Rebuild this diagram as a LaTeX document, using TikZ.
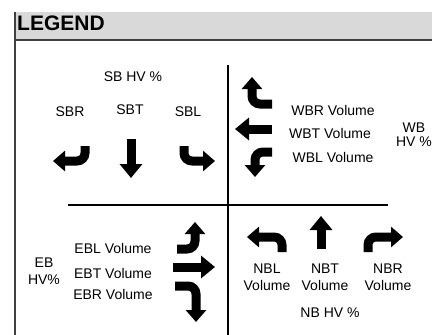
\documentclass[tikz,border=0pt]{standalone}
\usepackage{fontspec}
\setmainfont{Liberation Sans}
\usetikzlibrary{arrows.meta}

\begin{document}
\begin{tikzpicture}[x=1pt,y=-1pt,
    lbl/.style={font=\fontsize{14}{17}\selectfont,inner sep=0pt,align=center},
    fat/.style={line width=9pt,-{Triangle[width=22pt,length=14pt]}},
    turn/.style={line width=9pt,rounded corners=8pt,-{Triangle[width=20pt,length=12pt]}}]
    \useasboundingbox (0,0) rectangle (432,335);
    % header
    \fill[black!15] (15,12) rectangle (432,40);
    \draw[line width=2pt,black!75] (15,12) -- (15,335);
    \draw[line width=1.8pt,black!75] (15,40) -- (432,40);
    \node[anchor=west,inner sep=0pt,font=\fontsize{21}{21}\selectfont\bfseries] (title) at (17,23) {LEGEND};
    % quadrants
    \coordinate (vtop) at (228,65);
    \coordinate (vbot) at (228,335);
    \coordinate (hleft) at (68,205);
    \coordinate (hright) at (388,205);
    \draw[line width=1.2pt] (vtop) -- (vbot);
    \draw[line width=1.2pt] (hleft) -- (hright);
    % southbound
    \node[lbl] (sbhv) at (133,77) {SB HV \%};
    \node[lbl] (sbr) at (70,112) {SBR};
    \node[lbl] (sbt) at (130,110) {SBT};
    \node[lbl] (sbl) at (188,112) {SBL};
    \coordinate (sbrA) at (85,146);  \coordinate (sbrB) at (53,161);
    \coordinate (sbtA) at (131,139); \coordinate (sbtB) at (131,178);
    \coordinate (sblA) at (184,146); \coordinate (sblB) at (215,161);
    \draw[turn] (sbrA) |- (sbrB);
    \draw[fat] (sbtA) -- (sbtB);
    \draw[turn] (sblA) |- (sblB);
    % westbound
    \node[lbl] (wbr) at (333,110) {WBR Volume};
    \node[lbl] (wbt) at (330,133) {WBT Volume};
    \node[lbl] (wbl) at (333,157) {WBL Volume};
    \node[lbl,font=\fontsize{14}{14}\selectfont] (wbhv) at (414,135) {WB\\HV \%};
    \coordinate (wbrA) at (272,104); \coordinate (wbrB) at (252,77);
    \coordinate (wbtA) at (272,129); \coordinate (wbtB) at (235,129);
    \coordinate (wblA) at (272,152); \coordinate (wblB) at (255,177);
    \draw[turn] (wbrA) -| (wbrB);
    \draw[fat] (wbtA) -- (wbtB);
    \draw[turn] (wblA) -| (wblB);
    % eastbound
    \node[lbl] (ebhv) at (44,271) {EB\\HV\%};
    \node[lbl] (ebl) at (113,248) {EBL Volume};
    \node[lbl] (ebt) at (113,273) {EBT Volume};
    \node[lbl] (ebr) at (113,294) {EBR Volume};
    \coordinate (eblA) at (177,249); \coordinate (eblB) at (195,222);
    \coordinate (ebtA) at (173,267); \coordinate (ebtB) at (215,267);
    \coordinate (ebrA) at (175,286); \coordinate (ebrB) at (196,322);
    \draw[turn] (eblA) -| (eblB);
    \draw[fat] (ebtA) -- (ebtB);
    \draw[turn] (ebrA) -| (ebrB);
    % northbound
    \node[lbl] (nbl) at (267,277) {NBL\\Volume};
    \node[lbl] (nbt) at (325,277) {NBT\\Volume};
    \node[lbl] (nbr) at (388,277) {NBR\\Volume};
    \node[lbl] (nbhv) at (330,313) {NB HV \%};
    \coordinate (nblA) at (282,252); \coordinate (nblB) at (247,237);
    \coordinate (nbtA) at (321,249); \coordinate (nbtB) at (321,216);
    \coordinate (nbrA) at (368,252); \coordinate (nbrB) at (403,237);
    \draw[turn] (nblA) |- (nblB);
    \draw[fat] (nbtA) -- (nbtB);
    \draw[turn] (nbrA) |- (nbrB);
\end{tikzpicture}
\end{document}
